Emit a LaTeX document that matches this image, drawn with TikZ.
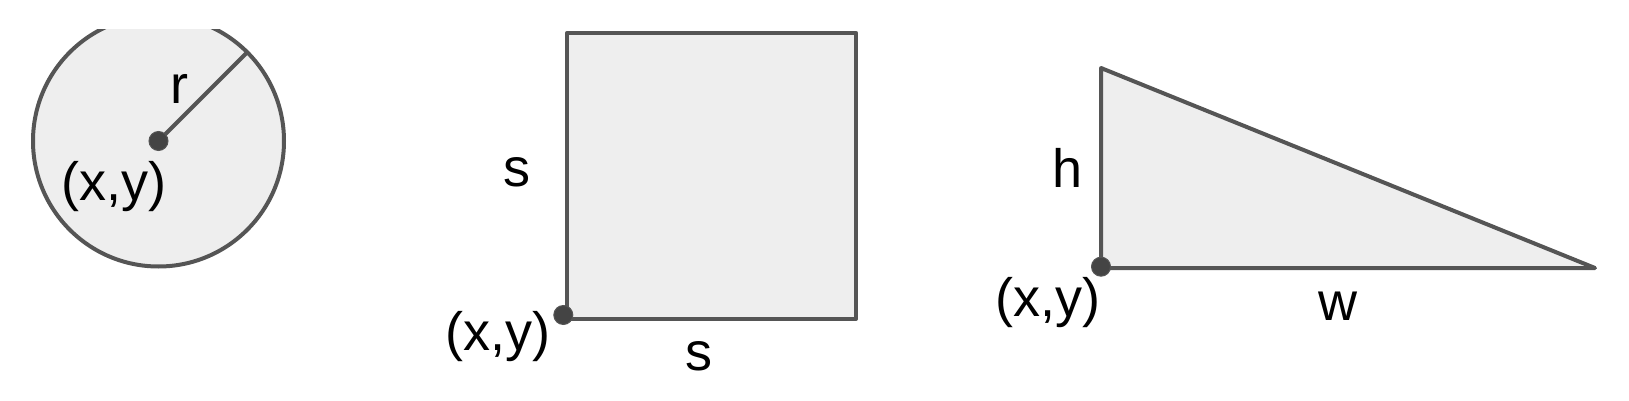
\documentclass[tikz,border=0pt]{standalone}
\usepackage{fontspec}
\setmainfont{Liberation Sans}
\usetikzlibrary{calc}
\definecolor{edgegray}{HTML}{555555}
\definecolor{dotgray}{HTML}{444444}
\definecolor{fillgray}{HTML}{EEEEEE}
\tikzset{
  shape line/.style={draw=edgegray, line width=2pt, fill=fillgray, line join=round, line cap=round},
  pos dot/.style={circle, fill=dotgray, draw=edgegray, line width=0.5pt, inner sep=0pt, minimum size=9.5pt},
  dim label/.style={inner sep=0pt, font=\fontsize{27}{32}\selectfont}
}
\begin{document}
\begin{tikzpicture}[x=0.5pt, y=-0.5pt]
        \useasboundingbox (0,0) rectangle (1629,401);
        % Circle (cut off at the top)
        \coordinate (cc) at (158.5,141);
        \coordinate (redge) at ($(cc)+(-45:125)$);
        \begin{scope}
                \clip (0,30) rectangle (400,401);
                \draw [shape line] (cc) circle (125.5);
        \end{scope}
        \draw [shape line] (cc) -- (redge);
        \node [pos dot] (cdot) at (cc) {};
        \node [dim label] (lr) at (179.5,88.5) {r};
        \node [dim label] (lcxy) at (114,186.5) {(x,y)};
        % Square
        \coordinate (sa) at (567.3,318.8);
        \coordinate (sb) at (856,32.7);
        \draw [shape line] (sa) rectangle (sb);
        \node [pos dot] (sdot) at (563.3,315) {};
        \node [dim label] (lsl) at (516.5,172.5) {s};
        \node [dim label] (lsb) at (699,356.5) {s};
        \node [dim label] (lsxy) at (498,337) {(x,y)};
        % Triangle
        \coordinate (ta) at (1101,268);
        \coordinate (tb) at (1101,68);
        \coordinate (tc) at (1595,268);
        \draw [shape line] (ta) -- (tb) -- (tc) -- cycle;
        \node [pos dot] (tdot) at (1101,266.7) {};
        \node [dim label] (lh) at (1067.5,167.5) {h};
        \node [dim label] (lw) at (1337.5,306) {w};
        \node [dim label] (ltxy) at (1048,303) {(x,y)};
\end{tikzpicture}
\end{document}
